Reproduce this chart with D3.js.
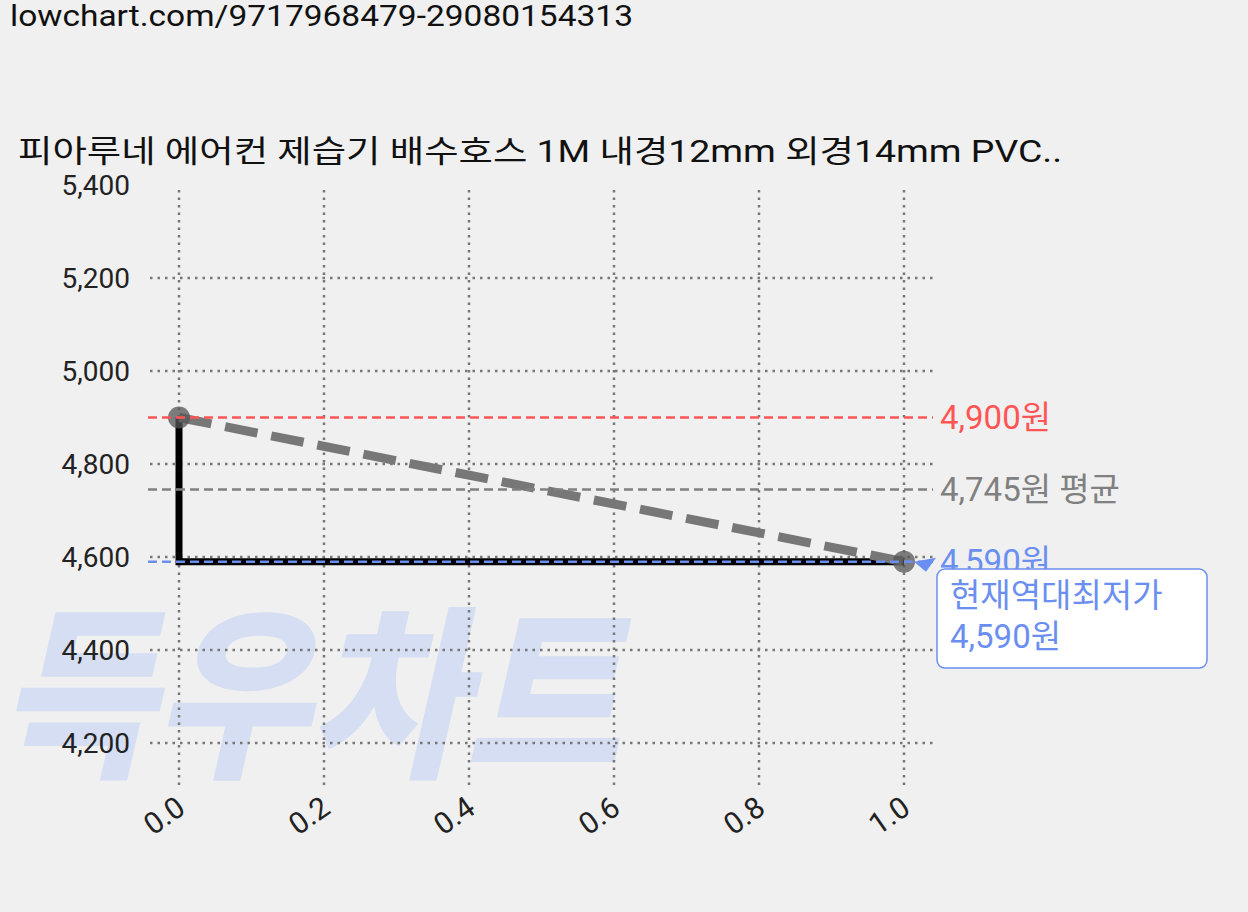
<!DOCTYPE html><html><head><meta charset="utf-8">
<script src="https://cdn.jsdelivr.net/npm/d3@7"></script>
<style>body{margin:0;background:#f0f0f0;font-family:Roboto,"Noto Sans CJK KR",sans-serif}</style></head><body>
<svg id="c" width="1248" height="912"></svg>
<script>
const xs=[0,1];
const prices=[4900,4590];
const yTicks=[4200,4400,4600,4800,5000,5200,5400];
const xTicks=[0,0.2,0.4,0.6,0.8,1.0];
const maxPrice=4900, avgPrice=4745, minPrice=4590;
const title="피아루네 에어컨 제습기 배수호스 1M 내경12mm 외경14mm PVC..";
const svg=d3.select("#c");
const F='Roboto,"Noto Sans CJK KR",sans-serif';
const x=d3.scaleLinear().domain([0,1]).range([179,904]);
const y=d3.scaleLinear().domain([4200,5400]).range([743,185]);
svg.append("text").attr("x",10).attr("y",26).attr("font-size",30).attr("font-family",F).attr("fill","#111").attr("textLength",623).attr("lengthAdjust","spacingAndGlyphs").text("lowchart.com/9717968479-29080154313");
svg.append("text").attr("x",18).attr("y",162).attr("font-size",31).attr("font-family",F).attr("fill","#111").attr("textLength",1044).attr("lengthAdjust","spacingAndGlyphs").text(title);
svg.append("text").attr("x",-2).attr("y",763).attr("font-size",185).attr("font-weight",900).attr("font-style","italic")
 .attr("font-family",'"Noto Sans CJK KR"').attr("fill","#d5def2").attr("textLength",622).attr("lengthAdjust","spacingAndGlyphs").text("득우차트");
const g=svg.append("g");
g.selectAll(".hg").data(yTicks.filter(t=>t<5400)).join("line").attr("x1",150).attr("x2",933).attr("y1",d=>y(d)).attr("y2",d=>y(d))
 .attr("stroke","#777").attr("stroke-width",2.5).attr("stroke-dasharray","2.5,5");
g.selectAll(".vg").data(xTicks).join("line").attr("x1",d=>x(d)).attr("x2",d=>x(d)).attr("y1",190).attr("y2",785)
 .attr("stroke","#777").attr("stroke-width",2.5).attr("stroke-dasharray","2.5,5");
g.selectAll(".yl").data(yTicks).join("text").attr("x",130).attr("y",d=>y(d)+10).attr("text-anchor","end").attr("font-size",28).attr("font-family",F).attr("fill","#222").text(d3.format(","));
g.selectAll(".xl").data(xTicks).join("text").attr("transform",d=>`translate(${x(d)+8},${812}) rotate(-35)`).attr("text-anchor","end").attr("font-size",30).attr("font-family",F).attr("fill","#222").text(d3.format(".1f"));
const step=[[xs[0],prices[0]],[xs[0],prices[1]],[xs[1],prices[1]]];
g.append("path").attr("d",d3.line().x(d=>x(d[0])).y(d=>y(d[1]))(step)).attr("fill","none").attr("stroke","#000").attr("stroke-width",7);
g.append("path").attr("d",d3.line().x((d,i)=>x(xs[i])).y(d=>y(d))(prices)).attr("fill","none").attr("stroke","#777").attr("stroke-width",9).attr("stroke-dasharray","33,14");
g.selectAll(".pt").data(prices).join("circle").attr("cx",(d,i)=>x(xs[i])).attr("cy",d=>y(d)).attr("r",11).attr("fill","#555").attr("opacity",0.75);
const refs=[[maxPrice,"#ff5555",maxPrice.toLocaleString()+"원"],[avgPrice,"#808080",avgPrice.toLocaleString()+"원 평균"],[minPrice,"#6b8ff0",minPrice.toLocaleString()+"원"]];
refs.forEach(([v,c,t])=>{
 g.append("line").attr("x1",148).attr("x2",933).attr("y1",y(v)).attr("y2",y(v)).attr("stroke",c).attr("stroke-width",2.5).attr("stroke-dasharray","9,5");
 g.append("text").attr("x",940).attr("y",y(v)+11).attr("font-size",33).attr("font-family",F).attr("fill",c).text(t);
});
g.append("path").attr("d",`M${x(1)+10},${y(minPrice)} l22,-4 l-10,14 z`).attr("fill","#6b8ff0");
g.append("rect").attr("x",937).attr("y",569).attr("width",270).attr("height",99).attr("rx",8).attr("fill","#fff").attr("stroke","#6b8ff0").attr("stroke-width",1.5);
g.append("text").attr("x",950).attr("y",607).attr("font-size",33).attr("font-family",F).attr("fill","#6b8ff0").text("현재역대최저가");
g.append("text").attr("x",950).attr("y",648).attr("font-size",33).attr("font-family",F).attr("fill","#6b8ff0").text(minPrice.toLocaleString()+"원");
</script></body></html>
